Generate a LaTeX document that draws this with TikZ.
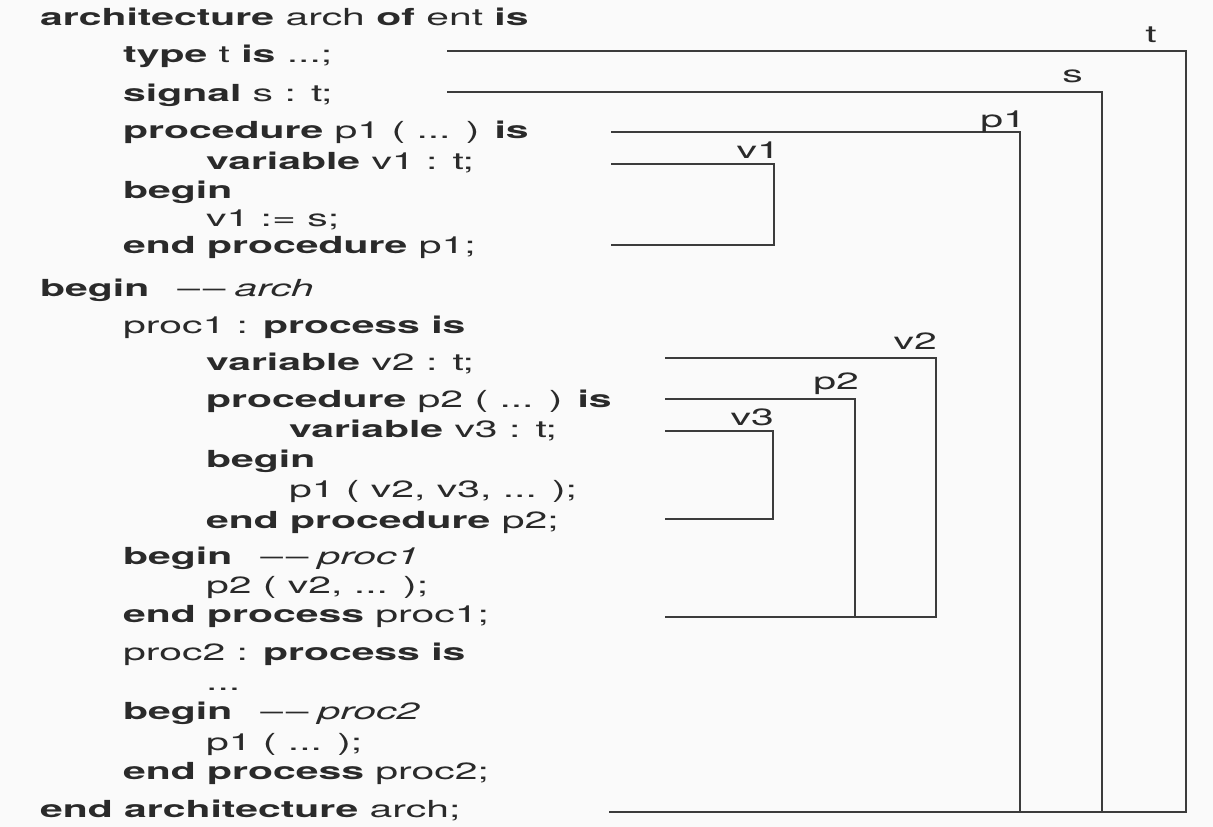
\documentclass[tikz,border=0pt]{standalone}
\usepackage{fontspec}
\setmainfont{TeX Gyre Heros}[FakeStretch=1.74]

\definecolor{paper}{HTML}{FAFAFA}
\definecolor{ink}{HTML}{2A2A2A}
\definecolor{rulecol}{HTML}{3C3C3C}

\newcommand{\kw}[1]{\textbf{#1}}
\newcommand{\cmt}[1]{\kw{begin}\hspace{28pt}\textendash\hspace{3pt}\textendash\hspace{9pt}\textit{#1}}

\tikzset{
  code/.style={anchor=base west, inner sep=0pt, text=ink,
               font=\fontsize{23.5}{28}\selectfont},
  lbl/.style={anchor=base east, inner sep=0pt, text=ink,
              font=\fontsize{23.5}{28}\selectfont},
  scopeline/.style={draw=rulecol, line width=1.7pt, line cap=butt, line join=miter}
}

\begin{document}
\begin{tikzpicture}[x=1pt, y=-1pt]
  \useasboundingbox (0,0) rectangle (1213,827);
  \fill[paper] (0,0) rectangle (1213,827);

  % indentation columns
  \def\xa{40} \def\xb{123} \def\xc{206} \def\xd{289}

  % source text
  \node[code] (l01) at (\xa,25)  {\kw{architecture} arch \kw{of} ent \kw{is}};
  \node[code] (l02) at (\xb,62)  {\kw{type} t \kw{is} ...;};
  \node[code] (l03) at (\xb,101) {\kw{signal} s : t;};
  \node[code] (l04) at (\xb,138) {\kw{procedure} p1 ( ... ) \kw{is}};
  \node[code] (l05) at (\xc,169) {\kw{variable} v1 : t;};
  \node[code] (l06) at (\xb,198) {\kw{begin}};
  \node[code] (l07) at (\xc,226) {v1 := s;};
  \node[code] (l08) at (\xb,253) {\kw{end procedure} p1;};
  \node[code] (l09) at (\xa,296) {\cmt{arch}};
  \node[code] (l10) at (\xb,333) {proc1 : \kw{process is}};
  \node[code] (l11) at (\xc,370) {\kw{variable} v2 : t;};
  \node[code] (l12) at (\xc,407) {\kw{procedure} p2 ( ... ) \kw{is}};
  \node[code] (l13) at (\xd,437) {\kw{variable} v3 : t;};
  \node[code] (l14) at (\xc,467) {\kw{begin}};
  \node[code] (l15) at (\xd,497) {p1 ( v2, v3, ... );};
  \node[code] (l16) at (\xc,528) {\kw{end procedure} p2;};
  \node[code] (l17) at (\xb,564) {\cmt{proc1}};
  \node[code] (l18) at (\xc,593) {p2 ( v2, ... );};
  \node[code] (l19) at (\xb,622) {\kw{end process} proc1;};
  \node[code] (l20) at (\xb,660) {proc2 : \kw{process is}};
  \node[code] (l21) at (\xc,690) {...};
  \node[code] (l22) at (\xb,719) {\cmt{proc2}};
  \node[code] (l23) at (\xc,750) {p1 ( ... );};
  \node[code] (l24) at (\xb,779) {\kw{end process} proc2;};
  \node[code] (l25) at (\xa,817) {\kw{end architecture} arch;};

  % scope brackets: start, corner and end points
  \coordinate (tA) at (447,51);   \coordinate (tC) at (1186,51);
  \coordinate (sA) at (447,92);   \coordinate (sC) at (1102,92);
  \coordinate (pA) at (611,132);  \coordinate (pC) at (1020,132);
  \coordinate (archEnd) at (609,812);
  \coordinate (v1A) at (611,164); \coordinate (v1C) at (774,164);
  \coordinate (v1E) at (611,245);
  \coordinate (v2A) at (665,358); \coordinate (v2C) at (936,358);
  \coordinate (v2E) at (665,617);
  \coordinate (p2A) at (665,399); \coordinate (p2C) at (855,399);
  \coordinate (v3A) at (665,431); \coordinate (v3C) at (773,431);
  \coordinate (v3E) at (665,519);

  \draw[scopeline] (tA) -- (tC) |- (archEnd);
  \draw[scopeline] (sA) -- (sC) -- (sC |- archEnd);
  \draw[scopeline] (pA) -- (pC) -- (pC |- archEnd);
  \draw[scopeline] (v1A) -- (v1C) |- (v1E);
  \draw[scopeline] (v2A) -- (v2C) |- (v2E);
  \draw[scopeline] (p2A) -- (p2C) -- (p2C |- v2E);
  \draw[scopeline] (v3A) -- (v3C) |- (v3E);

  % names of the declared items
  \node[lbl] (nt)  at (1157,42)  {t};
  \node[lbl] (ns)  at (1083,82)  {s};
  \node[lbl] (np1) at (1026,127) {p1};
  \node[lbl] (nv1) at (780,158)  {v1};
  \node[lbl] (nv2) at (937,349)  {v2};
  \node[lbl] (np2) at (859,389)  {p2};
  \node[lbl] (nv3) at (774,425)  {v3};
\end{tikzpicture}
\end{document}
